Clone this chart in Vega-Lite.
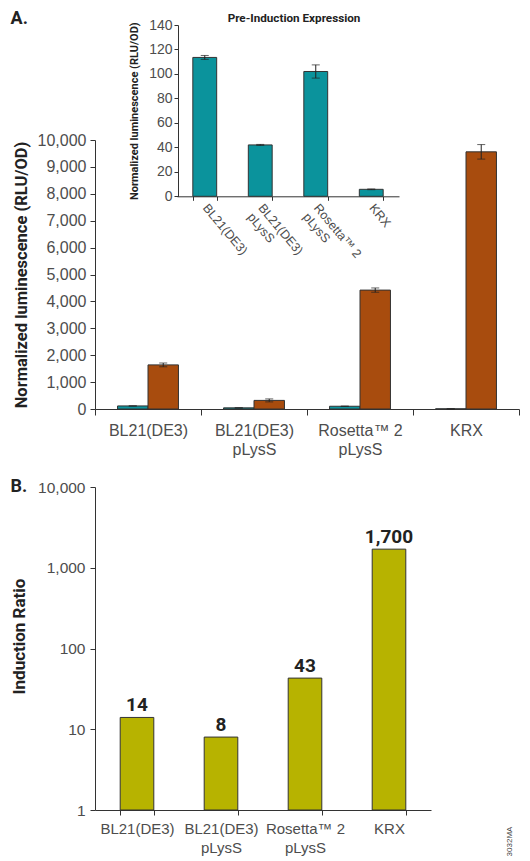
{
  "$schema": "https://vega.github.io/schema/vega-lite/v6.json",
  "padding": {"left": 10, "top": 10, "right": 5, "bottom": 0},
  "config": {
    "view": {"stroke": null},
    "font": "Liberation Sans",
    "axis": {"grid": false, "labelFont": "Liberation Sans", "labelColor": "#4d4d4d", "labelOverlap": false, "domainColor": "#333", "tickColor": "#333", "titleFont": "Roboto, sans-serif", "titleFontWeight": "bold", "titleColor": "#222"},
    "title": {"font": "Roboto, sans-serif", "fontWeight": "bold", "color": "#222"}
  },
  "title": {"text": "A.", "anchor": "start", "frame": "bounds", "fontSize": 18, "offset": -15},
  "datasets": {
    "expr": [
      {"strain": "BL21(DE3)", "condition": "Uninduced", "rlu": 113.5, "lo": 111.9, "hi": 115.1},
      {"strain": "BL21(DE3)", "condition": "Induced", "rlu": 1640, "lo": 1570, "hi": 1710},
      {"strain": "BL21(DE3) pLysS", "condition": "Uninduced", "rlu": 42, "lo": 41.6, "hi": 42.4},
      {"strain": "BL21(DE3) pLysS", "condition": "Induced", "rlu": 320, "lo": 265, "hi": 375},
      {"strain": "Rosetta™ 2 pLysS", "condition": "Uninduced", "rlu": 102, "lo": 96.6, "hi": 107.4},
      {"strain": "Rosetta™ 2 pLysS", "condition": "Induced", "rlu": 4420, "lo": 4340, "hi": 4500},
      {"strain": "KRX", "condition": "Uninduced", "rlu": 5.7, "lo": 5.4, "hi": 6.0},
      {"strain": "KRX", "condition": "Induced", "rlu": 9560, "lo": 9290, "hi": 9830}
    ],
    "ratio": [
      {"strain": "BL21(DE3)", "ratio": 14},
      {"strain": "BL21(DE3) pLysS", "ratio": 8},
      {"strain": "Rosetta™ 2 pLysS", "ratio": 43},
      {"strain": "KRX", "ratio": 1700}
    ]
  },
  "spacing": 20,
  "vconcat": [
    {
      "width": 424,
      "height": 384,
      "title": {"text": "Pre-Induction Expression", "anchor": "middle", "frame": "group", "fontSize": 11.7, "dx": -13, "offset": -7},
      "layer": [
        {
          "data": {"name": "expr"},
          "encoding": {
            "x": {"field": "strain", "type": "nominal", "sort": ["BL21(DE3)", "BL21(DE3) pLysS", "Rosetta™ 2 pLysS", "KRX"],
              "scale": {"domain": ["BL21(DE3)", "BL21(DE3) pLysS", "Rosetta™ 2 pLysS", "KRX"], "paddingInner": 0, "paddingOuter": 0},
              "axis": {"title": null, "labelAngle": 0, "labelFontSize": 16, "labelPadding": 7, "labelLineHeight": 19.5, "tickBand": "extent", "tickSize": 6,
                "labelExpr": "indexof(datum.label, ' pLysS') > 0 ? [replace(datum.label, ' pLysS', ''), 'pLysS'] : datum.label"}},
            "xOffset": {"field": "condition", "type": "nominal", "sort": ["Uninduced", "Induced"],
              "scale": {"domain": ["Uninduced", "Induced"], "paddingInner": 0, "paddingOuter": 0.74}}
          },
          "layer": [
            {
              "mark": {"type": "bar", "stroke": "#333", "strokeWidth": 1},
              "encoding": {
                "y": {"field": "rlu", "type": "quantitative",
                  "scale": {"domain": [0, 10000], "range": [384, 115], "nice": false},
                  "axis": {"title": "Normalized luminescence (RLU/OD)", "values": [0, 1000, 2000, 3000, 4000, 5000, 6000, 7000, 8000, 9000, 10000], "tickCount": 20, "format": ",d",
                    "labelFontSize": 16, "tickSize": 5, "labelPadding": 4, "titleFontSize": 16.5, "titlePadding": 8}},
                "color": {"field": "condition", "type": "nominal", "scale": {"domain": ["Uninduced", "Induced"], "range": ["#0b939c", "#a84c0e"]}, "legend": null}
              }
            },
            {
              "mark": {"type": "rule", "color": "#222", "strokeWidth": 1},
              "encoding": {
                "y": {"field": "lo", "type": "quantitative"},
                "y2": {"field": "hi"}
              }
            },
            {
              "mark": {"type": "tick", "color": "#222", "size": 8, "thickness": 1},
              "encoding": {
                "y": {"field": "hi", "type": "quantitative"}
              }
            },
            {
              "mark": {"type": "tick", "color": "#222", "size": 8, "thickness": 1},
              "encoding": {
                "y": {"field": "lo", "type": "quantitative"}
              }
            }
          ]
        },
        {
          "data": {"name": "expr"},
          "transform": [{"filter": "datum.condition === 'Uninduced'"}],
          "encoding": {
            "x": {"field": "strain", "type": "nominal", "sort": ["BL21(DE3)", "BL21(DE3) pLysS", "Rosetta™ 2 pLysS", "KRX"],
              "scale": {"domain": ["BL21(DE3)", "BL21(DE3) pLysS", "Rosetta™ 2 pLysS", "KRX"], "range": [82, 304], "paddingInner": 0.57, "paddingOuter": 0.285},
              "axis": {"orient": "bottom", "offset": -212.7, "title": null, "labelAngle": 50, "labelAlign": "left", "labelFontSize": 12.5, "labelPadding": 5, "labelLineHeight": 14, "tickBand": "extent", "tickSize": 4,
                "labelExpr": "indexof(datum.label, ' pLysS') > 0 ? [replace(datum.label, ' pLysS', ''), 'pLysS'] : datum.label"}}
          },
          "layer": [
            {
              "mark": {"type": "bar", "color": "#0b939c", "stroke": "#333", "strokeWidth": 1},
              "encoding": {
                "y": {"field": "rlu", "type": "quantitative",
                  "scale": {"domain": [0, 140], "range": [171.3, 0], "nice": false},
                  "axis": {"orient": "left", "offset": -83, "title": "Normalized luminescence (RLU/OD)", "values": [0, 20, 40, 60, 80, 100, 120, 140], "tickCount": 20,
                    "labelFontSize": 14, "tickSize": 4, "labelPadding": 2, "titleFontSize": 11, "titlePadding": 9}}
              }
            },
            {
              "mark": {"type": "rule", "color": "#222", "strokeWidth": 1},
              "encoding": {
                "y": {"field": "lo", "type": "quantitative"},
                "y2": {"field": "hi"}
              }
            },
            {
              "mark": {"type": "tick", "color": "#222", "size": 8, "thickness": 1},
              "encoding": {
                "y": {"field": "hi", "type": "quantitative"}
              }
            },
            {
              "mark": {"type": "tick", "color": "#222", "size": 8, "thickness": 1},
              "encoding": {
                "y": {"field": "lo", "type": "quantitative"}
              }
            }
          ]
        }
      ],
      "resolve": {"scale": {"x": "independent", "y": "independent"}, "axis": {"x": "independent", "y": "independent"}}
    },
    {
      "width": 336,
      "height": 323,
      "title": {"text": "B.", "anchor": "start", "frame": "bounds", "fontSize": 18, "offset": -16},
      "data": {"name": "ratio"},
      "layer": [
        {
          "mark": {"type": "bar", "color": "#b7b300", "stroke": "#333", "strokeWidth": 1},
          "encoding": {
            "x": {"field": "strain", "type": "nominal", "sort": ["BL21(DE3)", "BL21(DE3) pLysS", "Rosetta™ 2 pLysS", "KRX"],
              "scale": {"paddingInner": 0.6, "paddingOuter": 0.3},
              "axis": {"title": null, "labelAngle": 0, "labelFontSize": 15, "labelPadding": 6, "labelLineHeight": 19.3, "tickBand": "extent", "tickSize": 5,
                "labelExpr": "indexof(datum.label, ' pLysS') > 0 ? [replace(datum.label, ' pLysS', ''), 'pLysS'] : datum.label"}},
            "y": {"field": "ratio", "type": "quantitative",
              "scale": {"type": "log", "domain": [1, 10000], "nice": false},
              "axis": {"title": "Induction Ratio", "values": [1, 10, 100, 1000, 10000], "format": ",", "labelFontSize": 15.5, "tickSize": 5, "labelPadding": 5, "titleFontSize": 17, "titlePadding": 9, "titleY": 149}},
            "y2": {"datum": 1}
          }
        },
        {
          "mark": {"type": "text", "font": "Roboto, sans-serif", "fontWeight": "bold", "fontSize": 19, "color": "#222", "baseline": "alphabetic", "dy": -6},
          "encoding": {
            "x": {"field": "strain", "type": "nominal", "sort": ["BL21(DE3)", "BL21(DE3) pLysS", "Rosetta™ 2 pLysS", "KRX"]},
            "y": {"field": "ratio", "type": "quantitative",
              "scale": {"type": "log", "domain": [1, 10000], "nice": false},
              "axis": {"orient": "right", "title": "3032MA", "labels": false, "ticks": false, "domain": false,
                "titleFont": "Liberation Sans", "titleFontWeight": "normal", "titleFontSize": 8, "titleColor": "#444", "titleAngle": 270, "titleX": 82, "titleY": 354}},
            "text": {"field": "ratio", "type": "quantitative", "format": ","}
          }
        }
      ],
      "resolve": {"scale": {"y": "independent"}, "axis": {"y": "independent"}}
    }
  ]
}
